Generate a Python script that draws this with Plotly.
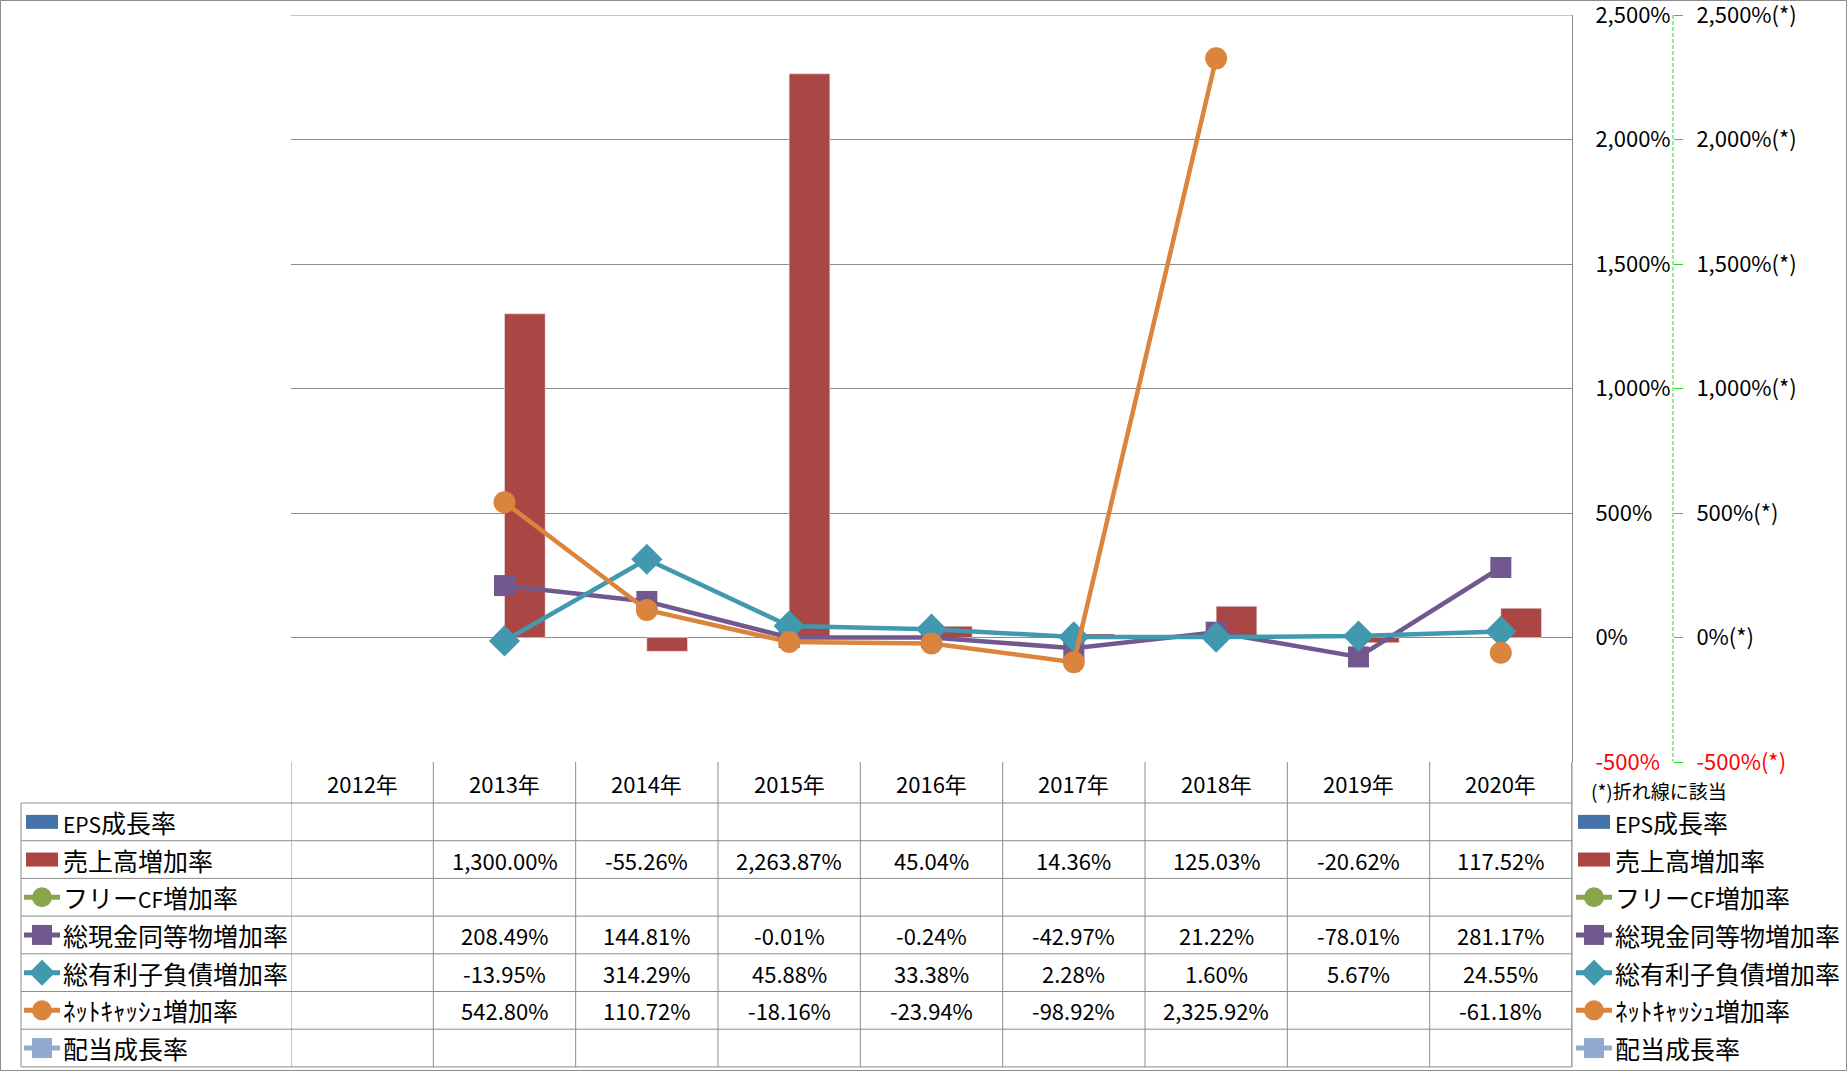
import plotly.graph_objects as go

W, H = 1847, 1071

# ── data ────────────────────────────────────────────────────────────────
years = ["2012年", "2013年", "2014年", "2015年", "2016年", "2017年", "2018年", "2019年", "2020年"]
eps_growth = [None] * 9
sales_growth = [None, 1300.00, -55.26, 2263.87, 45.04, 14.36, 125.03, -20.62, 117.52]
fcf_growth = [None] * 9
cash_growth = [None, 208.49, 144.81, -0.01, -0.24, -42.97, 21.22, -78.01, 281.17]
debt_growth = [None, -13.95, 314.29, 45.88, 33.38, 2.28, 1.60, 5.67, 24.55]
netcash_growth = [None, 542.80, 110.72, -18.16, -23.94, -98.92, 2325.92, None, -61.18]
dividend_growth = [None] * 9

tick_vals = [-500, 0, 500, 1000, 1500, 2000, 2500]

LATIN = '<span style="font-size:21px">{}</span>'

# name, values, kind, colour, symbol
series = [
    (LATIN.format("EPS") + "成長率", eps_growth, "bar", "#4572A7", None),
    ("売上高増加率", sales_growth, "bar", "#AA4643", None),
    ("フリー" + LATIN.format("CF") + "増加率", fcf_growth, "line", "#89A54E", "circle"),
    ("総現金同等物増加率", cash_growth, "line", "#71588F", "square"),
    ("総有利子負債増加率", debt_growth, "line", "#4198AF", "diamond"),
    ("ﾈｯﾄｷｬｯｼｭ増加率", netcash_growth, "line", "#DB843D", "circle"),
    ("配当成長率", dividend_growth, "line", "#93A9CF", "square"),
]

FONT = "Noto Sans CJK JP"
GRID = "#8C8C8C"
GREEN = "#22DD22"


def xp(px):
    return px / W


def yp(py):
    return 1 - py / H


def fmt(v):
    return "" if v is None else f"{v:,.2f}%"


def pct(v):
    return f"{v:,}%"


# plot area / table geometry (pixels)
PL, PR, PT, PB = 291, 1572, 15, 762
HEAD_B = 803
ROW_H = 37.7
TBL_B = HEAD_B + ROW_H * len(series)
LEFT = 21

fig = go.Figure()

bar_w = 0.2857
for i, (name, vals, kind, col, sym) in enumerate(series):
    if kind == "bar":
        fig.add_trace(go.Bar(
            x=years, y=vals, name=name, marker_color=col,
            width=bar_w, offset=0 if i == 1 else -bar_w,
            yaxis="y",
        ))
for name, vals, kind, col, sym in series:
    if kind == "line":
        fig.add_trace(go.Scatter(
            x=years, y=vals, name=name, mode="lines+markers",
            line=dict(color=col, width=4.5),
            marker=dict(symbol=sym, color=col,
                        size={"circle": 22, "square": 21, "diamond": 24}[sym]),
            yaxis="y2", connectgaps=False,
        ))

shapes = []
annos = []

# top gridline (plotly skips the one on the range edge)
shapes.append(dict(type="line", xref="paper", yref="y",
                   x0=xp(PL), x1=xp(PR), y0=tick_vals[-1], y1=tick_vals[-1],
                   line=dict(color=GRID, width=1), layer="below"))

# table lines
for k in range(len(years) + 1):
    shapes.append(dict(type="line", xref="x", yref="paper",
                       x0=k - 0.5, x1=k - 0.5, y0=yp(PB), y1=yp(TBL_B),
                       line=dict(color=GRID, width=1)))
shapes.append(dict(type="line", xref="paper", yref="paper",
                   x0=xp(PR), x1=xp(PR), y0=yp(PB), y1=yp(TBL_B),
                   line=dict(color=GRID, width=1)))
shapes.append(dict(type="line", xref="paper", yref="paper",
                   x0=xp(LEFT), x1=xp(LEFT), y0=yp(HEAD_B), y1=yp(TBL_B),
                   line=dict(color=GRID, width=1)))
for r in range(len(series) + 1):
    y = HEAD_B + r * ROW_H
    shapes.append(dict(type="line", xref="paper", yref="paper",
                       x0=xp(LEFT), x1=xp(PR), y0=yp(y), y1=yp(y),
                       line=dict(color=GRID, width=1)))

# header
for i, yr in enumerate(years):
    annos.append(dict(x=i, y=yp((PB + HEAD_B) / 2), xref="x", yref="paper",
                      text=yr, showarrow=False, yanchor="middle", font=dict(size=22)))


def legend_symbol(cx, cy, kind, col, sym, x0, x1):
    if kind == "bar":
        shapes.append(dict(type="rect", xref="paper", yref="paper",
                           x0=xp(x0 + 2), x1=xp(x1 - 2), y0=yp(cy - 7), y1=yp(cy + 7),
                           fillcolor=col, line=dict(width=0)))
        return
    shapes.append(dict(type="line", xref="paper", yref="paper",
                       x0=xp(x0), x1=xp(x1), y0=yp(cy), y1=yp(cy),
                       line=dict(color=col, width=5)))
    if sym == "circle":
        r = 10
        shapes.append(dict(type="circle", xref="paper", yref="paper",
                           x0=xp(cx - r), x1=xp(cx + r), y0=yp(cy - r), y1=yp(cy + r),
                           fillcolor=col, line=dict(width=0)))
    elif sym == "square":
        r = 10
        shapes.append(dict(type="rect", xref="paper", yref="paper",
                           x0=xp(cx - r), x1=xp(cx + r), y0=yp(cy - r), y1=yp(cy + r),
                           fillcolor=col, line=dict(width=0)))
    else:
        r = 13
        path = (f"M {xp(cx - r)} {yp(cy)} L {xp(cx)} {yp(cy - r)} "
                f"L {xp(cx + r)} {yp(cy)} L {xp(cx)} {yp(cy + r)} Z")
        shapes.append(dict(type="path", xref="paper", yref="paper", path=path,
                           fillcolor=col, line=dict(width=0)))


for r, (name, vals, kind, col, sym) in enumerate(series):
    cy = HEAD_B + (r + 0.5) * ROW_H
    # left legend column
    legend_symbol(42, cy, kind, col, sym, 24, 60)
    annos.append(dict(x=xp(61), y=yp(cy), xref="paper", yref="paper", text=name,
                      showarrow=False, xanchor="left", yanchor="middle",
                      font=dict(size=25)))
    # right legend
    legend_symbol(1594, cy, kind, col, sym, 1576, 1612)
    annos.append(dict(x=xp(1613), y=yp(cy), xref="paper", yref="paper", text=name,
                      showarrow=False, xanchor="left", yanchor="middle",
                      font=dict(size=25)))
    # values
    for i, v in enumerate(vals):
        if v is not None:
            annos.append(dict(x=i, y=yp(cy), xref="x", yref="paper", text=fmt(v),
                              showarrow=False, yanchor="middle", font=dict(size=22)))

annos.append(dict(x=xp(1589), y=yp(790), xref="paper", yref="paper",
                  text="(*)折れ線に該当", showarrow=False, xanchor="left",
                  yanchor="middle", font=dict(size=19)))

# secondary axis dashed line
SEC_X = 1673
shapes.append(dict(type="line", xref="paper", yref="paper",
                   x0=xp(SEC_X), x1=xp(SEC_X), y0=yp(PT), y1=yp(PB),
                   line=dict(color=GREEN, width=1, dash="4px,2px")))
# outer border
shapes.append(dict(type="rect", xref="paper", yref="paper",
                   x0=xp(0.5), x1=xp(W - 0.5), y0=yp(0.5), y1=yp(H - 0.5),
                   line=dict(color=GRID, width=1)))


def ticktext(suffix=""):
    out = []
    for v in tick_vals:
        t = pct(v) + suffix
        if v < 0:
            t = f'<span style="color:#FF0000">{t}</span>'
        out.append(t)
    return out


fig.update_layout(
    width=W, height=H, autosize=False,
    margin=dict(l=0, r=0, t=0, b=0, pad=0),
    paper_bgcolor="white", plot_bgcolor="white",
    showlegend=False,
    font=dict(family=FONT, color="#000000", size=22),
    xaxis=dict(domain=[xp(PL), xp(PR)], range=[-0.5, 8.5], type="category",
               automargin=False,
               showticklabels=False, showgrid=False, zeroline=False, showline=False),
    yaxis=dict(domain=[yp(PB), yp(PT)], range=[-500, 2500], side="right",
               automargin=False, ticklabeloverflow="allow",
               tickvals=tick_vals, ticktext=ticktext(), ticks="",
               ticklabelstandoff=18,
               showgrid=True, gridcolor=GRID, gridwidth=1, zeroline=False,
               showline=True, linecolor=GRID, linewidth=1,
               tickfont=dict(size=22)),
    yaxis2=dict(overlaying="y", range=[-500, 2500], side="right",
                anchor="free", position=xp(SEC_X), automargin=False,
                ticklabeloverflow="allow",
                tickvals=tick_vals, ticktext=ticktext("(*)"),
                ticks="outside", ticklen=9, tickcolor=GREEN, tickwidth=1,
                ticklabelstandoff=9,
                showgrid=False, zeroline=False, showline=False,
                tickfont=dict(size=22)),
    shapes=shapes,
    annotations=annos,
)

fig.write_html("out.html", config=dict(displayModeBar=False, responsive=False),
               post_script="document.body.style.margin='0';")
